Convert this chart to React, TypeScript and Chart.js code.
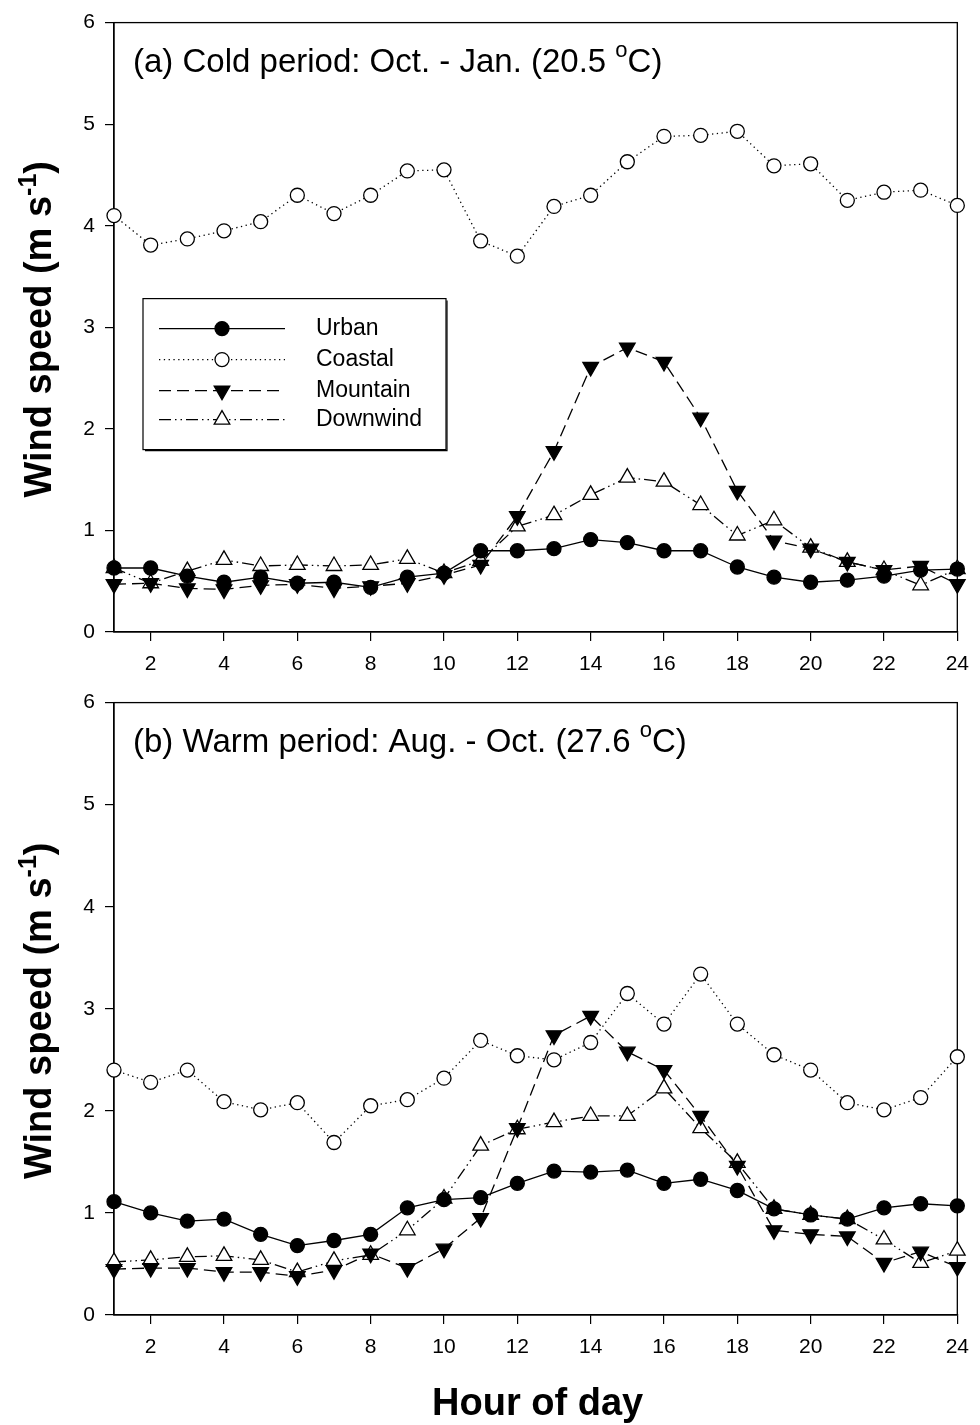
import React, { useEffect, useRef } from 'react';
import { Chart, registerables } from 'chart.js';

Chart.register(...registerables);

// ---------------- data ----------------
const hours = [1, 2, 3, 4, 5, 6, 7, 8, 9, 10, 11, 12, 13, 14, 15, 16, 17, 18, 19, 20, 21, 22, 23, 24];
const xTickValues = [2, 4, 6, 8, 10, 12, 14, 16, 18, 20, 22, 24];
const yTickValues = [0, 1, 2, 3, 4, 5, 6];
const seriesNames = ['Urban', 'Coastal', 'Mountain', 'Downwind'];

const coldUrban = [0.63, 0.63, 0.55, 0.49, 0.54, 0.48, 0.49, 0.44, 0.54, 0.58, 0.8, 0.8, 0.82, 0.91, 0.88, 0.8, 0.8, 0.64, 0.54, 0.49, 0.51, 0.55, 0.61, 0.62];
const coldCoastal = [4.1, 3.81, 3.87, 3.95, 4.04, 4.3, 4.12, 4.3, 4.54, 4.55, 3.85, 3.7, 4.19, 4.3, 4.63, 4.88, 4.89, 4.93, 4.59, 4.61, 4.25, 4.33, 4.35, 4.2];
const coldMountain = [0.47, 0.48, 0.43, 0.42, 0.46, 0.47, 0.43, 0.45, 0.48, 0.56, 0.66, 1.14, 1.78, 2.61, 2.8, 2.66, 2.11, 1.39, 0.9, 0.82, 0.69, 0.61, 0.65, 0.47];
const coldDownwind = [0.63, 0.48, 0.6, 0.71, 0.65, 0.66, 0.65, 0.66, 0.72, 0.58, 0.7, 1.04, 1.15, 1.35, 1.52, 1.48, 1.25, 0.95, 1.1, 0.83, 0.69, 0.61, 0.46, 0.62];

const warmUrban = [1.11, 1.0, 0.92, 0.94, 0.79, 0.68, 0.73, 0.79, 1.05, 1.13, 1.15, 1.29, 1.41, 1.4, 1.42, 1.29, 1.33, 1.22, 1.04, 0.98, 0.94, 1.05, 1.09, 1.07];
const warmCoastal = [2.4, 2.28, 2.4, 2.09, 2.01, 2.08, 1.69, 2.05, 2.11, 2.32, 2.69, 2.54, 2.5, 2.67, 3.15, 2.85, 3.34, 2.85, 2.55, 2.4, 2.08, 2.01, 2.13, 2.53];
const warmMountain = [0.45, 0.46, 0.46, 0.42, 0.42, 0.38, 0.44, 0.6, 0.46, 0.65, 0.95, 1.83, 2.74, 2.93, 2.58, 2.4, 1.95, 1.46, 0.83, 0.79, 0.77, 0.51, 0.62, 0.47];
const warmDownwind = [0.52, 0.54, 0.57, 0.58, 0.54, 0.42, 0.53, 0.59, 0.83, 1.14, 1.66, 1.82, 1.89, 1.95, 1.95, 2.22, 1.83, 1.49, 1.04, 0.98, 0.94, 0.74, 0.51, 0.63];

const titleA = { main: '(a) Cold period: Oct. - Jan. (20.5 ', sup: 'o', tail: 'C)' };
const titleB = { main: '(b) Warm period: Aug. - Oct. (27.6 ', sup: 'o', tail: 'C)' };
const yTitle = { main: 'Wind speed (m s', sup: '-1', tail: ')' };
const xTitle = 'Hour of day';

// ---------------- styles ----------------
const FONT = '"Liberation Sans", Arial, Helvetica, sans-serif';

type SeriesStyle = { dash: number[]; pointStyle: string; rotation: number; filled: boolean; radius: number };
const seriesStyles: SeriesStyle[] = [
  { dash: [], pointStyle: 'circle', rotation: 0, filled: true, radius: 7 },
  { dash: [1.3, 3.5], pointStyle: 'circle', rotation: 0, filled: false, radius: 7 },
  { dash: [12, 6], pointStyle: 'triangle', rotation: 180, filled: true, radius: 9 },
  { dash: [12, 4, 1.5, 4, 1.5, 4], pointStyle: 'triangle', rotation: 0, filled: false, radius: 9 },
];

function drawMarker(ctx: CanvasRenderingContext2D, st: SeriesStyle, x: number, y: number) {
  ctx.save();
  ctx.setLineDash([]);
  ctx.lineWidth = 1.3;
  ctx.strokeStyle = '#000';
  ctx.fillStyle = st.filled ? '#000' : '#fff';
  ctx.beginPath();
  if (st.pointStyle === 'circle') {
    ctx.arc(x, y, st.radius, 0, Math.PI * 2);
  } else {
    let rad = (st.rotation * Math.PI) / 180;
    const r = st.radius;
    ctx.moveTo(x + Math.sin(rad) * r, y - Math.cos(rad) * r);
    rad += (2 * Math.PI) / 3;
    ctx.lineTo(x + Math.sin(rad) * r, y - Math.cos(rad) * r);
    rad += (2 * Math.PI) / 3;
    ctx.lineTo(x + Math.sin(rad) * r, y - Math.cos(rad) * r);
    ctx.closePath();
  }
  ctx.fill();
  ctx.stroke();
  ctx.restore();
}

function drawSupText(
  ctx: CanvasRenderingContext2D,
  t: { main: string; sup: string; tail: string },
  x: number,
  y: number,
  size: number,
  supSize: number,
  supRise: number,
  weight: string,
  align: 'left' | 'center'
) {
  const f1 = `${weight} ${size}px ${FONT}`;
  const f2 = `${weight} ${supSize}px ${FONT}`;
  ctx.font = f1;
  const w1 = ctx.measureText(t.main).width;
  const w3 = ctx.measureText(t.tail).width;
  ctx.font = f2;
  const w2 = ctx.measureText(t.sup).width;
  const total = w1 + w2 + w3;
  let sx = align === 'center' ? x - total / 2 : x;
  ctx.fillStyle = '#000';
  ctx.textBaseline = 'alphabetic';
  ctx.textAlign = 'left';
  ctx.font = f1;
  ctx.fillText(t.main, sx, y);
  sx += w1;
  ctx.font = f2;
  ctx.fillText(t.sup, sx, y - supRise);
  sx += w2;
  ctx.font = f1;
  ctx.fillText(t.tail, sx, y);
}

type PanelProps = {
  values: number[][];
  title: { main: string; sup: string; tail: string };
  canvasHeight: number;
  padTop: number;
  xScaleHeight: number;
  showLegend: boolean;
  showXTitle: boolean;
  top: number;
};

function Panel(props: PanelProps) {
  const ref = useRef<HTMLCanvasElement | null>(null);
  useEffect(() => {
    const canvas = ref.current;
    if (!canvas) return;

    const decorPlugin = {
      id: 'decor',
      beforeDatasetsDraw(chart: any) {
        const { ctx, chartArea } = chart;
        ctx.save();
        ctx.strokeStyle = '#000';
        ctx.lineWidth = 1.3;
        ctx.setLineDash([]);
        ctx.strokeRect(chartArea.left, chartArea.top, chartArea.right - chartArea.left, chartArea.bottom - chartArea.top);
        ctx.restore();
      },
      afterDraw(chart: any) {
        const { ctx, chartArea } = chart;
        ctx.save();
        // panel title
        drawSupText(ctx, props.title, chartArea.left + 19, chartArea.top + 49, 33, 22, 15, 'normal', 'left');
        // y axis title
        ctx.save();
        ctx.translate(51, (chartArea.top + chartArea.bottom) / 2 + 2);
        ctx.rotate(-Math.PI / 2);
        drawSupText(ctx, yTitle, 0, 0, 38, 25, 15, 'bold', 'center');
        ctx.restore();
        // x axis title
        if (props.showXTitle) {
          ctx.font = `bold 38px ${FONT}`;
          ctx.fillStyle = '#000';
          ctx.textAlign = 'center';
          ctx.textBaseline = 'alphabetic';
          ctx.fillText(xTitle, (chartArea.left + chartArea.right) / 2 + 2, chartArea.bottom + 100);
        }
        // legend
        if (props.showLegend) {
          const bx = chartArea.left + 29;
          const by = chartArea.top + 276;
          const bw = 303;
          const bh = 151;
          ctx.fillStyle = '#fff';
          ctx.fillRect(bx, by, bw, bh);
          ctx.strokeStyle = '#000';
          ctx.lineWidth = 1.2;
          ctx.setLineDash([]);
          ctx.strokeRect(bx, by, bw, bh);
          ctx.beginPath();
          ctx.moveTo(bx + bw + 1, by + 2);
          ctx.lineTo(bx + bw + 1, by + bh + 1);
          ctx.lineTo(bx + 2, by + bh + 1);
          ctx.stroke();
          const rowY = [30, 61, 92, 121];
          seriesNames.forEach((name, i) => {
            const st = seriesStyles[i];
            const y = by + rowY[i];
            ctx.save();
            ctx.strokeStyle = '#000';
            ctx.lineWidth = 1.3;
            ctx.setLineDash(st.dash);
            ctx.beginPath();
            ctx.moveTo(bx + 16, y);
            ctx.lineTo(bx + 142, y);
            ctx.stroke();
            ctx.restore();
            drawMarker(ctx, st, bx + 79, y);
            ctx.font = `23px ${FONT}`;
            ctx.fillStyle = '#000';
            ctx.textAlign = 'left';
            ctx.textBaseline = 'middle';
            ctx.fillText(name, bx + 173, y);
          });
        }
        ctx.restore();
      },
    };

    const datasets = props.values.map((vals, i) => {
      const st = seriesStyles[i];
      return {
        label: seriesNames[i],
        data: hours.map((h, j) => ({ x: h, y: vals[j] })),
        borderColor: '#000',
        borderWidth: 1.3,
        borderDash: st.dash,
        backgroundColor: st.filled ? '#000' : '#fff',
        pointBackgroundColor: st.filled ? '#000' : '#fff',
        pointBorderColor: '#000',
        pointBorderWidth: 1.3,
        pointStyle: st.pointStyle,
        pointRotation: st.rotation,
        pointRadius: st.radius,
        pointHoverRadius: st.radius,
        tension: 0,
        fill: false,
        clip: false,
      };
    });

    const chart = new Chart(canvas, {
      type: 'line',
      data: { datasets: datasets as any },
      options: {
        responsive: false,
        animation: false,
        events: [],
        layout: { padding: { top: props.padTop, right: 16, left: 0, bottom: 0 } },
        plugins: { legend: { display: false }, tooltip: { enabled: false }, title: { display: false } },
        scales: {
          x: {
            type: 'linear',
            min: 1,
            max: 24,
            afterBuildTicks: (s: any) => {
              s.ticks = xTickValues.map((v) => ({ value: v }));
            },
            afterFit: (s: any) => {
              s.height = props.xScaleHeight;
            },
            ticks: {
              color: '#000',
              font: { family: FONT, size: 21 },
              padding: 11,
              maxRotation: 0,
              autoSkip: false,
            },
            grid: { drawOnChartArea: false, drawTicks: true, tickLength: 9, color: '#000', lineWidth: 1.2 },
            border: { display: true, color: '#000', width: 1.3 },
          },
          y: {
            type: 'linear',
            min: 0,
            max: 6,
            afterBuildTicks: (s: any) => {
              s.ticks = yTickValues.map((v) => ({ value: v }));
            },
            afterFit: (s: any) => {
              s.width = 114;
            },
            ticks: {
              color: '#000',
              font: { family: FONT, size: 21 },
              padding: 10,
            },
            grid: { drawOnChartArea: false, drawTicks: true, tickLength: 9, color: '#000', lineWidth: 1.2 },
            border: { display: true, color: '#000', width: 1.3 },
          },
        },
      } as any,
      plugins: [decorPlugin],
    });
    return () => chart.destroy();
  }, []);

  return (
    <canvas
      ref={ref}
      width={980}
      height={props.canvasHeight}
      style={{ position: 'absolute', left: 0, top: props.top, width: 980, height: props.canvasHeight, display: 'block' }}
    />
  );
}

export default function App() {
  return (
    <div style={{ position: 'absolute', left: 0, top: 0, width: 980, height: 1425, background: '#fff', overflow: 'hidden' }}>
      <Panel
        values={[coldUrban, coldCoastal, coldMountain, coldDownwind]}
        title={titleA}
        canvasHeight={680}
        padTop={18}
        xScaleHeight={48}
        showLegend={true}
        showXTitle={false}
        top={0}
      />
      <Panel
        values={[warmUrban, warmCoastal, warmMountain, warmDownwind]}
        title={titleB}
        canvasHeight={745}
        padTop={20}
        xScaleHeight={110}
        showLegend={false}
        showXTitle={true}
        top={680}
      />
    </div>
  );
}
